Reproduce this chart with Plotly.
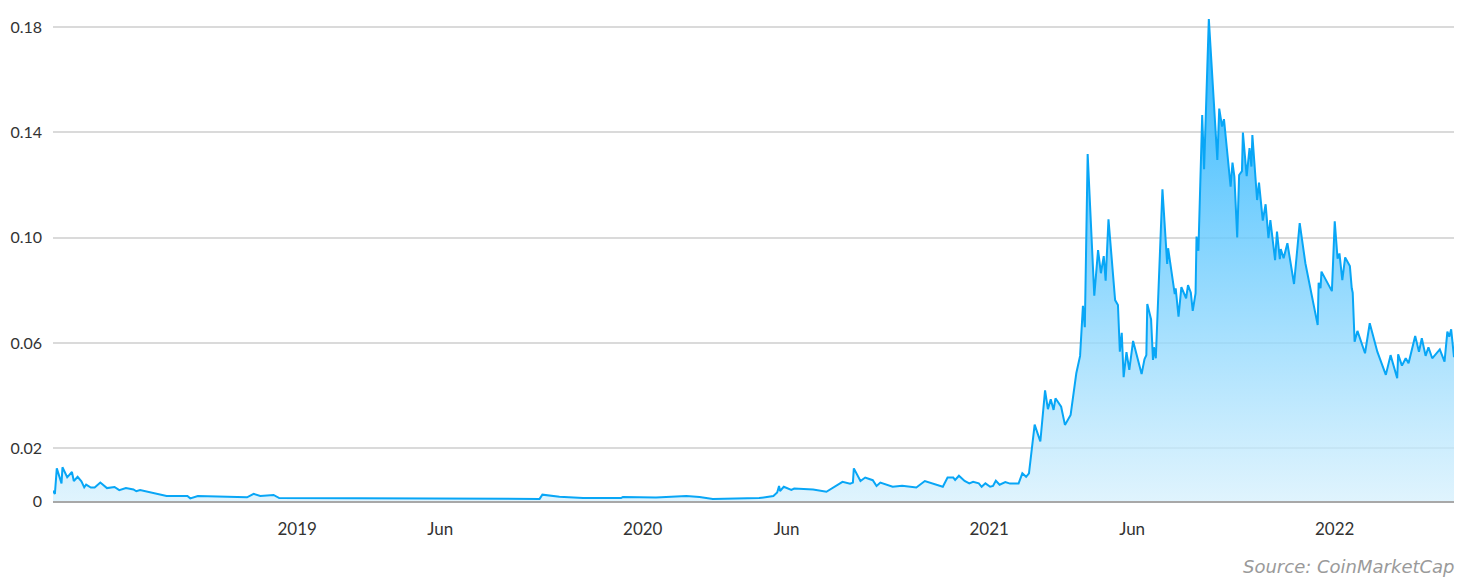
import plotly.graph_objects as go

dates = [
    "2018-04-18", "2018-04-20", "2018-04-22", "2018-04-27", "2018-04-28", "2018-05-03",
    "2018-05-08", "2018-05-10", "2018-05-14", "2018-05-18", "2018-05-21", "2018-05-23",
    "2018-05-28", "2018-06-01", "2018-06-07", "2018-06-14", "2018-06-22", "2018-06-27",
    "2018-07-04", "2018-07-12", "2018-07-15", "2018-07-19", "2018-08-16", "2018-09-07",
    "2018-09-10", "2018-09-18", "2018-11-09", "2018-11-16", "2018-11-23", "2018-12-07",
    "2018-12-13",
    "2019-04-20", "2019-08-03", "2019-09-14", "2019-09-17", "2019-10-05", "2019-10-30",
    "2019-12-09", "2019-12-11",
    "2020-01-15", "2020-02-16", "2020-03-01", "2020-03-15", "2020-05-03", "2020-05-18",
    "2020-05-22", "2020-05-24", "2020-05-25", "2020-05-29", "2020-06-06", "2020-06-09",
    "2020-06-29", "2020-07-13", "2020-07-30", "2020-08-07", "2020-08-10", "2020-08-11",
    "2020-08-18", "2020-08-23", "2020-08-31", "2020-09-04", "2020-09-08", "2020-09-21",
    "2020-10-01", "2020-10-16", "2020-10-25", "2020-11-13", "2020-11-18", "2020-11-24",
    "2020-11-26", "2020-11-30", "2020-12-06", "2020-12-11", "2020-12-15", "2020-12-21",
    "2020-12-24", "2020-12-28",
    "2021-01-02", "2021-01-05", "2021-01-08", "2021-01-12", "2021-01-18", "2021-01-23",
    "2021-02-01", "2021-02-05", "2021-02-09", "2021-02-12", "2021-02-18", "2021-02-24",
    "2021-03-01", "2021-03-04", "2021-03-07", "2021-03-10", "2021-03-12", "2021-03-18",
    "2021-03-22", "2021-03-28", "2021-04-03", "2021-04-07", "2021-04-10", "2021-04-12",
    "2021-04-15", "2021-04-22", "2021-04-26", "2021-04-29", "2021-05-02", "2021-05-04",
    "2021-05-07", "2021-05-14", "2021-05-17", "2021-05-19", "2021-05-21", "2021-05-23",
    "2021-05-26", "2021-05-29", "2021-06-02", "2021-06-11", "2021-06-14", "2021-06-16",
    "2021-06-17", "2021-06-21", "2021-06-23", "2021-06-24", "2021-06-26", "2021-07-03",
    "2021-07-08", "2021-07-09", "2021-07-16", "2021-07-17", "2021-07-20", "2021-07-23",
    "2021-07-28", "2021-07-30", "2021-08-02", "2021-08-04", "2021-08-07", "2021-08-08",
    "2021-08-10", "2021-08-14", "2021-08-16", "2021-08-21", "2021-08-26", "2021-08-30",
    "2021-09-01", "2021-09-04", "2021-09-06", "2021-09-13", "2021-09-15", "2021-09-17",
    "2021-09-20", "2021-09-22", "2021-09-25", "2021-09-26", "2021-09-30", "2021-10-03",
    "2021-10-05", "2021-10-06", "2021-10-11", "2021-10-13", "2021-10-17", "2021-10-20",
    "2021-10-23", "2021-10-25", "2021-10-30", "2021-11-01", "2021-11-04", "2021-11-05",
    "2021-11-08", "2021-11-12", "2021-11-19", "2021-11-25", "2021-12-01", "2021-12-06",
    "2021-12-14", "2021-12-15", "2021-12-17", "2021-12-18", "2021-12-29",
    "2022-01-01", "2022-01-04", "2022-01-06", "2022-01-09", "2022-01-12", "2022-01-17",
    "2022-01-19", "2022-01-20", "2022-01-22", "2022-01-25", "2022-02-02", "2022-02-07",
    "2022-02-15", "2022-02-24", "2022-03-01", "2022-03-08", "2022-03-09", "2022-03-13",
    "2022-03-17", "2022-03-20", "2022-03-27", "2022-03-31", "2022-04-03", "2022-04-07",
    "2022-04-10", "2022-04-14", "2022-04-22", "2022-04-27", "2022-04-30", "2022-05-02",
    "2022-05-04", "2022-05-07",
]

prices = [
    0.0039, 0.0027, 0.0124, 0.0067, 0.0128, 0.0090,
    0.0110, 0.0076, 0.0092, 0.0075, 0.0052, 0.0062,
    0.0051, 0.0051, 0.0070, 0.0049, 0.0053, 0.0041,
    0.0049, 0.0044, 0.0037, 0.0042, 0.0019, 0.0019,
    0.0010, 0.0019, 0.0014, 0.0027, 0.0019, 0.0023,
    0.0011,
    0.0009, 0.0008, 0.0008, 0.0024, 0.0016, 0.0011,
    0.0011, 0.0015,
    0.0013, 0.0019, 0.0015, 0.0008, 0.0011, 0.0019,
    0.0032, 0.0057, 0.0038, 0.0054, 0.0042, 0.0047,
    0.0044, 0.0035, 0.0073, 0.0066, 0.0070, 0.0124,
    0.0076, 0.0089, 0.0079, 0.0057, 0.0070, 0.0054,
    0.0058, 0.0051, 0.0076, 0.0054, 0.0089, 0.0089,
    0.0080, 0.0096, 0.0076, 0.0067, 0.0073, 0.0067,
    0.0054, 0.0067,
    0.0054, 0.0057, 0.0077, 0.0062, 0.0072, 0.0066,
    0.0066, 0.0105, 0.0092, 0.0105, 0.0290, 0.0226,
    0.0420, 0.0349, 0.0386, 0.0346, 0.0390, 0.0358,
    0.0289, 0.0327, 0.0485, 0.0551, 0.0741, 0.0660,
    0.1318, 0.0780, 0.0953, 0.0865, 0.0930, 0.0837,
    0.1070, 0.0763, 0.0744, 0.0567, 0.0639, 0.0470,
    0.0565, 0.0498, 0.0608, 0.0482, 0.0538, 0.0554,
    0.0748, 0.0690, 0.0536, 0.0584, 0.0542, 0.1184,
    0.0900, 0.0960, 0.0786, 0.0808, 0.0700, 0.0812,
    0.0770, 0.0820, 0.0791, 0.0722, 0.0789, 0.1004,
    0.0950, 0.1466, 0.1260, 0.1830, 0.1548, 0.1295,
    0.1490, 0.1422, 0.1450, 0.1194, 0.1285, 0.1232,
    0.1001, 0.1238, 0.1253, 0.1399, 0.1234, 0.1340,
    0.1270, 0.1390, 0.1143, 0.1209, 0.1065, 0.1127,
    0.0998, 0.1067, 0.0915, 0.1023, 0.0918, 0.0957,
    0.0922, 0.0979, 0.0824, 0.1055, 0.0903, 0.0814,
    0.0668, 0.0829, 0.0808, 0.0871, 0.0797,
    0.1062, 0.0920, 0.0940, 0.0839, 0.0925, 0.0892,
    0.0808, 0.0791, 0.0605, 0.0646, 0.0561, 0.0675,
    0.0567, 0.0479, 0.0554, 0.0466, 0.0557, 0.0514,
    0.0542, 0.0523, 0.0627, 0.0567, 0.0618, 0.0551,
    0.0584, 0.0542, 0.0576, 0.0529, 0.0643, 0.0624,
    0.0652, 0.0546,
]

x_tick_vals = ["2019-01-01", "2019-06-01", "2020-01-01", "2020-06-01",
               "2021-01-01", "2021-06-01", "2022-01-01"]
x_tick_text = ["2019", "Jun", "2020", "Jun", "2021", "Jun", "2022"]
y_tick_vals = [0, 0.02, 0.06, 0.10, 0.14, 0.18]
y_tick_text = ["0", "0.02", "0.06", "0.10", "0.14", "0.18"]

FONT = "Lato, 'Open Sans', sans-serif"

fig = go.Figure()
fig.add_trace(go.Scatter(
    x=dates, y=prices, mode="lines",
    line=dict(color="#08a6f6", width=2),
    fill="tozeroy",
    fillgradient=dict(
        type="vertical",
        start=0, stop=0.183,
        colorscale=[[0, "rgba(213,240,253,0.75)"],
                    [1, "rgba(10,170,255,0.87)"]],
    ),
    hoverinfo="skip",
    showlegend=False,
))

fig.update_layout(
    width=1483, height=583,
    margin=dict(l=53, r=29, t=10, b=82, autoexpand=False),
    paper_bgcolor="white", plot_bgcolor="white",
    font=dict(family=FONT, size=15, color="#333333"),
    hovermode=False,
    xaxis=dict(
        type="date",
        range=[dates[0], dates[-1]],
        tickvals=x_tick_vals, ticktext=x_tick_text,
        showgrid=False, zeroline=False,
        showline=True, linecolor="#a8a8a8", linewidth=2,
        ticks="", ticklabelstandoff=12,
        tickfont=dict(size=17, color="#333333"),
    ),
    yaxis=dict(
        range=[0, 0.18646],
        tickvals=y_tick_vals, ticktext=y_tick_text,
        showgrid=True, gridcolor="#dadada", gridwidth=2,
        zeroline=False, showline=False,
        ticks="", ticklabelstandoff=10,
        tickfont=dict(size=16, color="#333333"),
    ),
    annotations=[dict(
        text="<i>Source: CoinMarketCap</i>",
        xref="paper", yref="paper", x=1.002, y=-0.1324,
        xanchor="right", yanchor="middle", showarrow=False,
        font=dict(family="'DejaVu Sans', sans-serif", size=18, color="#9a9a9a"),
    )],
)

fig.write_html("out.html", config={"displayModeBar": False},
               post_script="document.body.style.margin='0px';")
